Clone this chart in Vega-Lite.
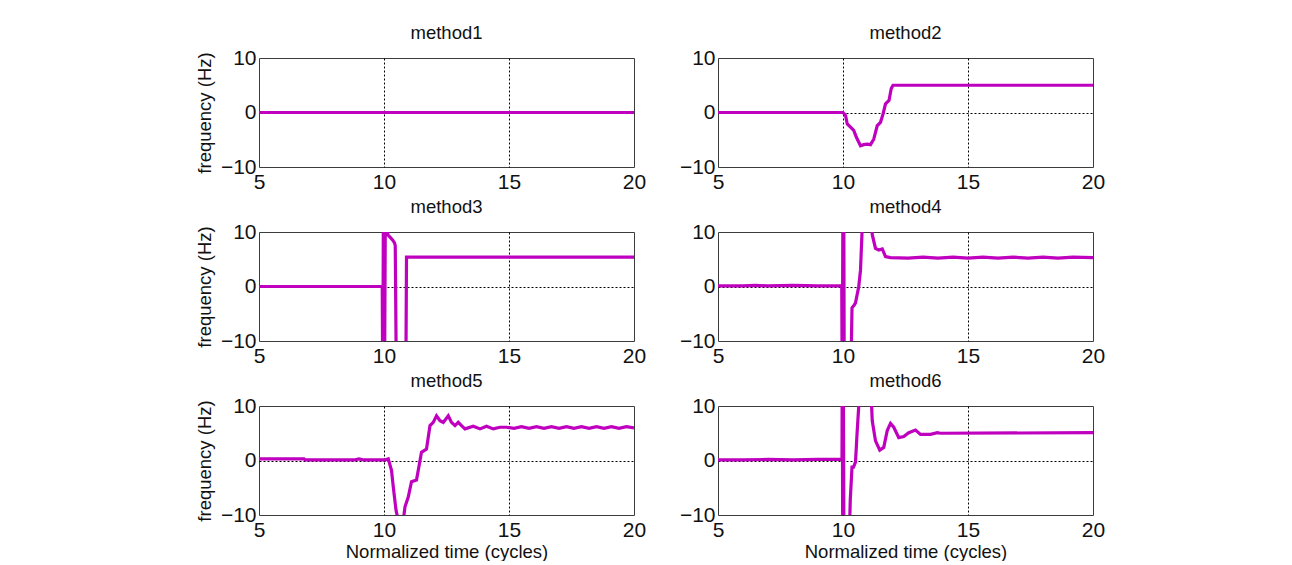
{
  "$schema": "https://vega.github.io/schema/vega-lite/v6.json",
  "padding": {"left": 194, "top": 23, "right": 0, "bottom": 0},
  "background": "white",
  "data": {"values": [
    {"method": "method1", "t": 5, "f": 0},
    {"method": "method1", "t": 20, "f": 0},

    {"method": "method2", "t": 5, "f": 0},
    {"method": "method2", "t": 9.9, "f": 0},
    {"method": "method2", "t": 10.0, "f": 0},
    {"method": "method2", "t": 10.1, "f": -0.5},
    {"method": "method2", "t": 10.17, "f": -2.1},
    {"method": "method2", "t": 10.3, "f": -2.7},
    {"method": "method2", "t": 10.43, "f": -3.3},
    {"method": "method2", "t": 10.54, "f": -4.6},
    {"method": "method2", "t": 10.7, "f": -6.1},
    {"method": "method2", "t": 10.83, "f": -5.9},
    {"method": "method2", "t": 10.97, "f": -5.8},
    {"method": "method2", "t": 11.1, "f": -5.9},
    {"method": "method2", "t": 11.23, "f": -4.9},
    {"method": "method2", "t": 11.37, "f": -2.4},
    {"method": "method2", "t": 11.5, "f": -1.8},
    {"method": "method2", "t": 11.6, "f": -0.3},
    {"method": "method2", "t": 11.7, "f": 1.6},
    {"method": "method2", "t": 11.84, "f": 2.2},
    {"method": "method2", "t": 11.93, "f": 4.4},
    {"method": "method2", "t": 12.0, "f": 5.0},
    {"method": "method2", "t": 20, "f": 5.0},

    {"method": "method3", "t": 5, "f": 0},
    {"method": "method3", "t": 9.93, "f": 0},
    {"method": "method3", "t": 9.95, "f": -20},
    {"method": "method3", "t": 9.98, "f": 20},
    {"method": "method3", "t": 10.02, "f": -20},
    {"method": "method3", "t": 10.06, "f": 20},
    {"method": "method3", "t": 10.1, "f": 10.5},
    {"method": "method3", "t": 10.12, "f": 20},
    {"method": "method3", "t": 10.15, "f": 9.5},
    {"method": "method3", "t": 10.25, "f": 9.0},
    {"method": "method3", "t": 10.35, "f": 8.5},
    {"method": "method3", "t": 10.42, "f": 8.0},
    {"method": "method3", "t": 10.45, "f": 7.5},
    {"method": "method3", "t": 10.5, "f": -20},
    {"method": "method3", "t": 10.87, "f": -20},
    {"method": "method3", "t": 10.9, "f": 5.4},
    {"method": "method3", "t": 20, "f": 5.4},

    {"method": "method4", "t": 5, "f": 0.1},
    {"method": "method4", "t": 6, "f": 0.1},
    {"method": "method4", "t": 6.5, "f": 0.2},
    {"method": "method4", "t": 7, "f": 0.1},
    {"method": "method4", "t": 8, "f": 0.2},
    {"method": "method4", "t": 9, "f": 0.1},
    {"method": "method4", "t": 9.95, "f": 0.1},
    {"method": "method4", "t": 9.97, "f": -20},
    {"method": "method4", "t": 10.0, "f": 20},
    {"method": "method4", "t": 10.03, "f": 20},
    {"method": "method4", "t": 10.05, "f": -20},
    {"method": "method4", "t": 10.3, "f": -20},
    {"method": "method4", "t": 10.36, "f": -3.9},
    {"method": "method4", "t": 10.45, "f": -3.4},
    {"method": "method4", "t": 10.5, "f": -3.0},
    {"method": "method4", "t": 10.63, "f": 0},
    {"method": "method4", "t": 10.7, "f": 3},
    {"method": "method4", "t": 10.76, "f": 9.8},
    {"method": "method4", "t": 10.8, "f": 20},
    {"method": "method4", "t": 11.1, "f": 20},
    {"method": "method4", "t": 11.17, "f": 9.5},
    {"method": "method4", "t": 11.3, "f": 7.0},
    {"method": "method4", "t": 11.43, "f": 6.7},
    {"method": "method4", "t": 11.57, "f": 6.9},
    {"method": "method4", "t": 11.7, "f": 5.5},
    {"method": "method4", "t": 11.9, "f": 5.3},
    {"method": "method4", "t": 12.6, "f": 5.2},
    {"method": "method4", "t": 13.2, "f": 5.4},
    {"method": "method4", "t": 13.8, "f": 5.2},
    {"method": "method4", "t": 14.4, "f": 5.4},
    {"method": "method4", "t": 15.0, "f": 5.2},
    {"method": "method4", "t": 15.6, "f": 5.4},
    {"method": "method4", "t": 16.2, "f": 5.2},
    {"method": "method4", "t": 16.8, "f": 5.4},
    {"method": "method4", "t": 17.4, "f": 5.2},
    {"method": "method4", "t": 18.0, "f": 5.4},
    {"method": "method4", "t": 18.6, "f": 5.2},
    {"method": "method4", "t": 19.2, "f": 5.4},
    {"method": "method4", "t": 20, "f": 5.3},

    {"method": "method5", "t": 5, "f": 0.3},
    {"method": "method5", "t": 6.8, "f": 0.3},
    {"method": "method5", "t": 6.85, "f": 0.1},
    {"method": "method5", "t": 8.8, "f": 0.1},
    {"method": "method5", "t": 9.0, "f": 0.3},
    {"method": "method5", "t": 9.2, "f": 0.1},
    {"method": "method5", "t": 10.04, "f": 0.1},
    {"method": "method5", "t": 10.17, "f": 0.3},
    {"method": "method5", "t": 10.3, "f": -1.8},
    {"method": "method5", "t": 10.37, "f": -4.8},
    {"method": "method5", "t": 10.48, "f": -9.1},
    {"method": "method5", "t": 10.57, "f": -11},
    {"method": "method5", "t": 10.77, "f": -11},
    {"method": "method5", "t": 10.84, "f": -8.5},
    {"method": "method5", "t": 10.97, "f": -6.7},
    {"method": "method5", "t": 11.1, "f": -3.9},
    {"method": "method5", "t": 11.3, "f": -3.6},
    {"method": "method5", "t": 11.44, "f": 0},
    {"method": "method5", "t": 11.5, "f": 1.5},
    {"method": "method5", "t": 11.7, "f": 2.1},
    {"method": "method5", "t": 11.84, "f": 6.4},
    {"method": "method5", "t": 11.97, "f": 7.0},
    {"method": "method5", "t": 12.1, "f": 8.2},
    {"method": "method5", "t": 12.24, "f": 7.3},
    {"method": "method5", "t": 12.37, "f": 7.0},
    {"method": "method5", "t": 12.57, "f": 8.2},
    {"method": "method5", "t": 12.7, "f": 7.0},
    {"method": "method5", "t": 12.84, "f": 6.4},
    {"method": "method5", "t": 12.97, "f": 7.0},
    {"method": "method5", "t": 13.1, "f": 6.4},
    {"method": "method5", "t": 13.24, "f": 5.8},
    {"method": "method5", "t": 13.57, "f": 6.3},
    {"method": "method5", "t": 13.84, "f": 5.8},
    {"method": "method5", "t": 14.1, "f": 6.3},
    {"method": "method5", "t": 14.37, "f": 5.8},
    {"method": "method5", "t": 14.64, "f": 6.1},
    {"method": "method5", "t": 14.9, "f": 6.1},
    {"method": "method5", "t": 15.2, "f": 5.9},
    {"method": "method5", "t": 15.5, "f": 6.2},
    {"method": "method5", "t": 15.8, "f": 5.9},
    {"method": "method5", "t": 16.1, "f": 6.2},
    {"method": "method5", "t": 16.4, "f": 5.9},
    {"method": "method5", "t": 16.7, "f": 6.2},
    {"method": "method5", "t": 17.0, "f": 5.9},
    {"method": "method5", "t": 17.3, "f": 6.2},
    {"method": "method5", "t": 17.6, "f": 5.9},
    {"method": "method5", "t": 17.9, "f": 6.2},
    {"method": "method5", "t": 18.2, "f": 5.9},
    {"method": "method5", "t": 18.5, "f": 6.2},
    {"method": "method5", "t": 18.8, "f": 5.9},
    {"method": "method5", "t": 19.1, "f": 6.2},
    {"method": "method5", "t": 19.4, "f": 5.9},
    {"method": "method5", "t": 19.7, "f": 6.2},
    {"method": "method5", "t": 20, "f": 6.0},

    {"method": "method6", "t": 5, "f": 0.1},
    {"method": "method6", "t": 6, "f": 0.1},
    {"method": "method6", "t": 7, "f": 0.2},
    {"method": "method6", "t": 8, "f": 0.1},
    {"method": "method6", "t": 9, "f": 0.2},
    {"method": "method6", "t": 9.96, "f": 0.2},
    {"method": "method6", "t": 9.97, "f": 20},
    {"method": "method6", "t": 9.99, "f": -20},
    {"method": "method6", "t": 10.01, "f": 20},
    {"method": "method6", "t": 10.04, "f": -20},
    {"method": "method6", "t": 10.22, "f": -20},
    {"method": "method6", "t": 10.29, "f": -7.3},
    {"method": "method6", "t": 10.36, "f": -1.2},
    {"method": "method6", "t": 10.42, "f": -1.2},
    {"method": "method6", "t": 10.5, "f": -0.3},
    {"method": "method6", "t": 10.56, "f": 4.8},
    {"method": "method6", "t": 10.63, "f": 10},
    {"method": "method6", "t": 10.68, "f": 20},
    {"method": "method6", "t": 11.05, "f": 20},
    {"method": "method6", "t": 11.17, "f": 7.3},
    {"method": "method6", "t": 11.3, "f": 3.6},
    {"method": "method6", "t": 11.47, "f": 1.9},
    {"method": "method6", "t": 11.63, "f": 2.4},
    {"method": "method6", "t": 11.77, "f": 5.5},
    {"method": "method6", "t": 11.9, "f": 6.8},
    {"method": "method6", "t": 12.03, "f": 6.1},
    {"method": "method6", "t": 12.23, "f": 4.2},
    {"method": "method6", "t": 12.43, "f": 4.4},
    {"method": "method6", "t": 12.63, "f": 5.1},
    {"method": "method6", "t": 12.9, "f": 5.6},
    {"method": "method6", "t": 13.1, "f": 4.8},
    {"method": "method6", "t": 13.5, "f": 4.8},
    {"method": "method6", "t": 13.77, "f": 5.1},
    {"method": "method6", "t": 13.9, "f": 5.0},
    {"method": "method6", "t": 20, "f": 5.1}
  ]},
  "columns": 2,
  "spacing": {"row": 65, "column": 84},
  "bounds": "flush",
  "concat": [
    {"title": "method1", "transform": [{"filter": "datum.method == 'method1'"}], "width": 375, "height": 109,
     "mark": {"type": "line", "clip": true, "color": "#bf00bf", "strokeWidth": 3.2},
     "encoding": {
       "x": {"field": "t", "type": "quantitative", "scale": {"domain": [5, 20], "nice": false, "zero": false}, "axis": {"values": [5, 10, 15, 20], "title": null, "gridOpacity": {"condition": {"test": "datum.value == 10 || datum.value == 15", "value": 1}, "value": 0}}},
       "y": {"field": "f", "type": "quantitative", "scale": {"domain": [-10, 10], "nice": false}, "axis": {"values": [-10, 0, 10], "title": "frequency (Hz)", "gridOpacity": {"condition": {"test": "datum.value == 0", "value": 1}, "value": 0}}}}},
    {"title": "method2", "transform": [{"filter": "datum.method == 'method2'"}], "width": 375, "height": 109,
     "mark": {"type": "line", "clip": true, "color": "#bf00bf", "strokeWidth": 3.2},
     "encoding": {
       "x": {"field": "t", "type": "quantitative", "scale": {"domain": [5, 20], "nice": false, "zero": false}, "axis": {"values": [5, 10, 15, 20], "title": null, "gridOpacity": {"condition": {"test": "datum.value == 10 || datum.value == 15", "value": 1}, "value": 0}}},
       "y": {"field": "f", "type": "quantitative", "scale": {"domain": [-10, 10], "nice": false}, "axis": {"values": [-10, 0, 10], "title": null, "gridOpacity": {"condition": {"test": "datum.value == 0", "value": 1}, "value": 0}}}}},
    {"title": "method3", "transform": [{"filter": "datum.method == 'method3'"}], "width": 375, "height": 109,
     "mark": {"type": "line", "clip": true, "color": "#bf00bf", "strokeWidth": 3.2},
     "encoding": {
       "x": {"field": "t", "type": "quantitative", "scale": {"domain": [5, 20], "nice": false, "zero": false}, "axis": {"values": [5, 10, 15, 20], "title": null, "gridOpacity": {"condition": {"test": "datum.value == 10 || datum.value == 15", "value": 1}, "value": 0}}},
       "y": {"field": "f", "type": "quantitative", "scale": {"domain": [-10, 10], "nice": false}, "axis": {"values": [-10, 0, 10], "title": "frequency (Hz)", "gridOpacity": {"condition": {"test": "datum.value == 0", "value": 1}, "value": 0}}}}},
    {"title": "method4", "transform": [{"filter": "datum.method == 'method4'"}], "width": 375, "height": 109,
     "mark": {"type": "line", "clip": true, "color": "#bf00bf", "strokeWidth": 3.2},
     "encoding": {
       "x": {"field": "t", "type": "quantitative", "scale": {"domain": [5, 20], "nice": false, "zero": false}, "axis": {"values": [5, 10, 15, 20], "title": null, "gridOpacity": {"condition": {"test": "datum.value == 10 || datum.value == 15", "value": 1}, "value": 0}}},
       "y": {"field": "f", "type": "quantitative", "scale": {"domain": [-10, 10], "nice": false}, "axis": {"values": [-10, 0, 10], "title": null, "gridOpacity": {"condition": {"test": "datum.value == 0", "value": 1}, "value": 0}}}}},
    {"title": "method5", "transform": [{"filter": "datum.method == 'method5'"}], "width": 375, "height": 109,
     "mark": {"type": "line", "clip": true, "color": "#bf00bf", "strokeWidth": 3.2},
     "encoding": {
       "x": {"field": "t", "type": "quantitative", "scale": {"domain": [5, 20], "nice": false, "zero": false}, "axis": {"values": [5, 10, 15, 20], "title": "Normalized time (cycles)", "gridOpacity": {"condition": {"test": "datum.value == 10 || datum.value == 15", "value": 1}, "value": 0}}},
       "y": {"field": "f", "type": "quantitative", "scale": {"domain": [-10, 10], "nice": false}, "axis": {"values": [-10, 0, 10], "title": "frequency (Hz)", "gridOpacity": {"condition": {"test": "datum.value == 0", "value": 1}, "value": 0}}}}},
    {"title": "method6", "transform": [{"filter": "datum.method == 'method6'"}], "width": 375, "height": 109,
     "mark": {"type": "line", "clip": true, "color": "#bf00bf", "strokeWidth": 3.2},
     "encoding": {
       "x": {"field": "t", "type": "quantitative", "scale": {"domain": [5, 20], "nice": false, "zero": false}, "axis": {"values": [5, 10, 15, 20], "title": "Normalized time (cycles)", "gridOpacity": {"condition": {"test": "datum.value == 10 || datum.value == 15", "value": 1}, "value": 0}}},
       "y": {"field": "f", "type": "quantitative", "scale": {"domain": [-10, 10], "nice": false}, "axis": {"values": [-10, 0, 10], "title": null, "gridOpacity": {"condition": {"test": "datum.value == 0", "value": 1}, "value": 0}}}}}
  ],
  "config": {
    "font": "Liberation Sans",
    "view": {"stroke": "#3c3c3c", "strokeWidth": 1, "fill": "white"},
    "axis": {
      "grid": true, "gridColor": "#000000", "gridDash": [2, 2], "gridWidth": 1,
      "ticks": false, "domain": false, "labelOverlap": false, "labelFlush": false,
      "labelFontSize": 21, "labelColor": "#111111",
      "titleFontSize": 18.5, "titleFontWeight": "normal", "titleColor": "#111111"
    },
    "axisX": {"labelPadding": 4, "titlePadding": 2},
    "axisY": {"labelPadding": 3, "titlePadding": 6},
    "title": {"fontSize": 18.5, "fontWeight": "normal", "color": "#111111", "offset": 5}
  }
}
